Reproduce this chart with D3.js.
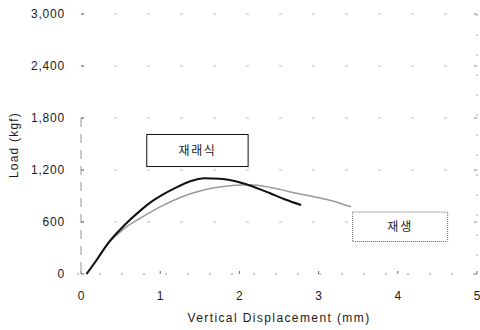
<!DOCTYPE html>
<html>
<head>
<meta charset="utf-8">
<script src="https://cdn.jsdelivr.net/npm/d3@7"></script>
<style>
  body { margin: 0; background: #fff; }
  text { font-family: "Liberation Sans", Arial, sans-serif; fill: #1a1a1a; }
  .kr { font-family: "Noto Sans CJK KR", sans-serif; }
</style>
</head>
<body>
<div id="chart"></div>
<script>
// displacement (mm) / load (kgf)
const dispConv = [0.07, 0.2, 0.34, 0.55, 0.76, 0.89, 1.01, 1.18, 1.38, 1.56, 1.75, 1.95, 2.13, 2.38, 2.58, 2.78];
const loadConv = [0, 165, 354, 565, 740, 835, 905, 988, 1070, 1105, 1100, 1070, 1022, 935, 860, 796];
const dispRecy = [0.07, 0.2, 0.34, 0.55, 0.76, 0.89, 1.01, 1.18, 1.38, 1.56, 1.75, 1.95, 2.13, 2.38, 2.63, 2.88, 3.14, 3.41];
const loadRecy = [0, 170, 345, 527, 650, 719, 780, 854, 925, 972, 1005, 1025, 1030, 1002, 950, 902, 852, 775];
const xTicks = [0, 1, 2, 3, 4, 5];
const yTicks = [0, 600, 1200, 1800, 2400, 3000];
const seriesNames = ['재래식', '재생'];

const config_size = {
  svg_width: 480,
  svg_height: 330,
  plot_margin: { left: 81, right: 2, top: 14, bottom: 56 },
};

const svg = d3.select('#chart').append('svg')
  .attr('width', config_size.svg_width)
  .attr('height', config_size.svg_height);

const m = config_size.plot_margin;
const x = d3.scaleLinear().domain([0, 5]).range([m.left, config_size.svg_width - m.right - 1]);
const y = d3.scaleLinear().domain([0, 3000]).range([config_size.svg_height - m.bottom, m.top]);

// faint scanned-looking grid lines
svg.append('g').selectAll('line')
  .data(yTicks.filter(d => d > 0))
  .join('line')
  .attr('x1', x(0)).attr('x2', x(5))
  .attr('y1', d => y(d)).attr('y2', d => y(d))
  .attr('stroke', '#bbb')
  .attr('stroke-width', 1)
  .attr('stroke-dasharray', '3,30');

// left axis, dashed line and small inward ticks
svg.append('line')
  .attr('x1', x(0)).attr('x2', x(0))
  .attr('y1', y(1800)).attr('y2', y(0))
  .attr('stroke', '#999')
  .attr('stroke-dasharray', '9,7');
svg.append('g').selectAll('line')
  .data(yTicks)
  .join('line')
  .attr('x1', x(0)).attr('x2', x(0) + 3)
  .attr('y1', d => y(d)).attr('y2', d => y(d))
  .attr('stroke', '#666');

// right axis ticks
svg.append('g').selectAll('line')
  .data(yTicks)
  .join('line')
  .attr('x1', x(5) - 3).attr('x2', x(5))
  .attr('y1', d => y(d)).attr('y2', d => y(d))
  .attr('stroke', '#888');
svg.append('line')
  .attr('x1', x(5)).attr('x2', x(5))
  .attr('y1', y(3000)).attr('y2', y(0))
  .attr('stroke', '#aaa')
  .attr('stroke-dasharray', '2,18');

// bottom axis, dotted baseline with tick marks
svg.append('line')
  .attr('x1', x(0) - 4).attr('x2', x(5))
  .attr('y1', y(0)).attr('y2', y(0))
  .attr('stroke', '#999')
  .attr('stroke-dasharray', '2,20');
svg.append('g').selectAll('line')
  .data(xTicks)
  .join('line')
  .attr('x1', d => x(d)).attr('x2', d => x(d))
  .attr('y1', y(0)).attr('y2', y(0) - 3)
  .attr('stroke', '#666');

// tick labels
svg.append('g').selectAll('text')
  .data(yTicks)
  .join('text')
  .attr('x', 65)
  .attr('y', d => y(d) + 4)
  .attr('text-anchor', 'end')
  .style('font-size', '12px')
  .style('letter-spacing', '0.8px')
  .text(d => d3.format(',')(d));

svg.append('g').selectAll('text')
  .data(xTicks)
  .join('text')
  .attr('x', d => x(d))
  .attr('y', 300)
  .attr('text-anchor', 'middle')
  .style('font-size', '12px')
  .text(d => d);

// axis titles
svg.append('text')
  .attr('x', 279).attr('y', 322)
  .attr('text-anchor', 'middle')
  .style('font-size', '12px')
  .style('letter-spacing', '1.4px')
  .text('Vertical Displacement (mm)');

svg.append('text')
  .attr('transform', 'translate(18,145) rotate(-90)')
  .attr('text-anchor', 'middle')
  .style('font-size', '12px')
  .style('letter-spacing', '1.2px')
  .text('Load (kgf)');

// curves
const line = d3.line()
  .x(d => x(d[0]))
  .y(d => y(d[1]))
  .curve(d3.curveMonotoneX);

svg.append('path')
  .datum(d3.zip(dispRecy, loadRecy))
  .attr('fill', 'none')
  .attr('stroke', '#999')
  .attr('stroke-width', 1.5)
  .attr('d', line);

svg.append('path')
  .datum(d3.zip(dispConv, loadConv))
  .attr('fill', 'none')
  .attr('stroke', '#111')
  .attr('stroke-width', 2)
  .attr('d', line);

// label boxes
const g1 = svg.append('g');
g1.append('rect')
  .attr('x', x(0.83)).attr('y', y(1610))
  .attr('width', x(2.11) - x(0.83)).attr('height', y(1240) - y(1610))
  .attr('fill', '#fff')
  .attr('stroke', '#111')
  .attr('stroke-width', 1);
g1.append('text')
  .attr('class', 'kr')
  .attr('x', (x(0.83) + x(2.11)) / 2).attr('y', y(1425) + 4)
  .attr('text-anchor', 'middle')
  .style('font-size', '12px')
  .style('letter-spacing', '1.5px')
  .text(seriesNames[0]);

const g2 = svg.append('g');
g2.append('rect')
  .attr('x', x(3.43)).attr('y', y(715))
  .attr('width', x(4.63) - x(3.43)).attr('height', y(375) - y(715))
  .attr('fill', '#fff')
  .attr('stroke', '#666')
  .attr('stroke-width', 1)
  .attr('stroke-dasharray', '1,1');
g2.append('text')
  .attr('class', 'kr')
  .attr('x', (x(3.43) + x(4.63)) / 2).attr('y', y(545) + 4)
  .attr('text-anchor', 'middle')
  .style('font-size', '12px')
  .style('letter-spacing', '2px')
  .text(seriesNames[1]);
</script>
</body>
</html>
